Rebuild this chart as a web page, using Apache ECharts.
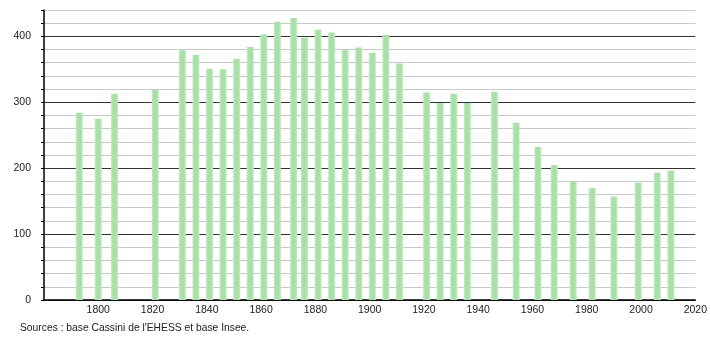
<!DOCTYPE html>
<html><head><meta charset="utf-8">
<script src="https://cdn.jsdelivr.net/npm/echarts@6/dist/echarts.min.js"></script>
<style>html,body{margin:0;padding:0;background:#fff;}#c{width:710px;height:340px;}</style>
</head><body><div id="c"></div>
<script>
const years = [1793,1800,1806,1821,1831,1836,1841,1846,1851,1856,1861,1866,1872,1876,1881,1886,1891,1896,1901,1906,1911,1921,1926,1931,1936,1946,1954,1962,1968,1975,1982,1990,1999,2006,2011];
const population = [284,275,313,319,379,372,351,350,366,384,403,422,428,398,410,406,379,383,375,402,359,315,299,313,299,316,269,232,205,180,170,157,178,193,196];
const sourceText = "Sources : base Cassini de l'EHESS et base Insee.";

const chart = echarts.init(document.getElementById('c'), null, {renderer:'canvas'});
const font = 'Liberation Sans, Arial, sans-serif';
chart.setOption({
  animation:false,
  backgroundColor:'#fff',
  grid:{left:44,right:10,top:10,bottom:40,containLabel:false},
  xAxis:{type:'value',min:1780,max:2020,interval:20,
    axisLine:{show:true,onZero:false,lineStyle:{color:'#000',width:1.5}},
    axisTick:{show:false},splitLine:{show:false},
    axisLabel:{showMinLabel:false,margin:5,color:'#222',fontSize:10.5,fontFamily:font,
      formatter:v=>String(v)}},
  yAxis:{type:'value',min:0,max:440,interval:20,
    axisLine:{show:true,lineStyle:{color:'#000',width:1.5}},
    axisTick:{show:true,length:3,lineStyle:{color:'#000'}},
    axisLabel:{margin:13,color:'#222',fontSize:10.5,fontFamily:font,
      formatter:v=> (v%100===0 ? String(v) : '')},
    splitLine:{show:true,lineStyle:{color:['#333','#c8c8c8','#c8c8c8','#c8c8c8','#c8c8c8'],width:1}}},
  series:[{type:'bar',data:years.map((y,i)=>[y,population[i]]),barWidth:7,
    itemStyle:{color:{type:'linear',x:0,y:0,x2:1,y2:0,colorStops:[
      {offset:0,color:'#bfeabf'},{offset:0.3,color:'#a9dfa9'},{offset:0.7,color:'#a9dfa9'},{offset:1,color:'#c4ecc4'}]}}}],
  graphic:[{type:'text',left:20,top:323,style:{text:sourceText,fill:'#222',font:'10.3px '+font}}]
});
</script></body></html>
